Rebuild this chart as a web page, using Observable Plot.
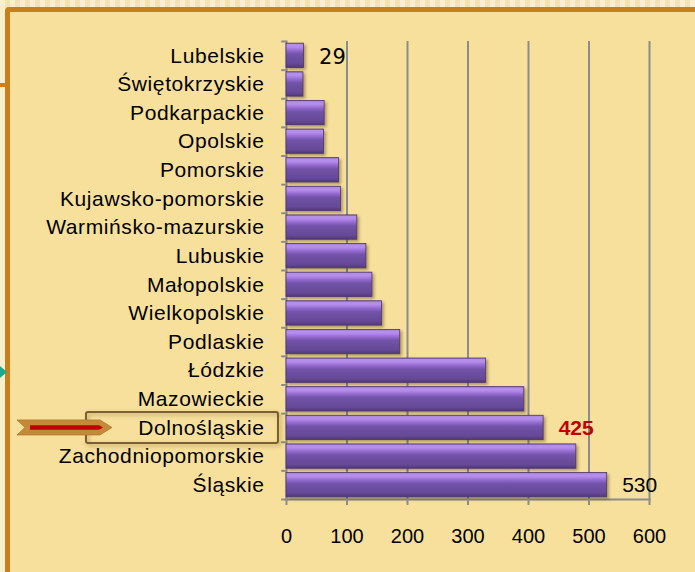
<!DOCTYPE html>
<html><head><meta charset="utf-8">
<script src="https://cdn.jsdelivr.net/npm/d3@7"></script>
<script src="https://cdn.jsdelivr.net/npm/@observablehq/plot@0.6"></script>
<style>
html,body{margin:0;padding:0;}
body{width:695px;height:572px;overflow:hidden;position:relative;
  background:repeating-linear-gradient(90deg,#f8efcf 0 5px,#f2e3b2 5px 10px);}
#frame{position:absolute;left:5px;top:7px;width:800px;height:700px;border:5px solid #c8801a;border-radius:4px;background:#f7e09c;box-sizing:border-box;}
#stub{position:absolute;left:0;top:83px;width:6px;height:4px;background:#c8801a;}
#teal{position:absolute;left:0;top:366px;width:0;height:0;border-top:6px solid transparent;border-bottom:6px solid transparent;border-left:7px solid #1aa88f;}
#chart{position:absolute;left:0;top:0;}
#overlay{position:absolute;left:0;top:0;pointer-events:none;}
.ylab text{letter-spacing:0.6px;}
.bars rect{filter:drop-shadow(2px 2px 1.5px rgba(60,40,10,0.4));}
</style>
</head><body>
<div id="frame"></div><div id="stub"></div><div id="teal"></div>
<div id="chart"></div>
<svg id="overlay" width="695" height="572"></svg>
<script>
const regions = ["Lubelskie","Świętokrzyskie","Podkarpackie","Opolskie","Pomorskie","Kujawsko-pomorskie","Warmińsko-mazurskie","Lubuskie","Małopolskie","Wielkopolskie","Podlaskie","Łódzkie","Mazowieckie","Dolnośląskie","Zachodniopomorskie","Śląskie"];
const values = [29,28,63,62,87,90,117,132,142,158,188,330,393,425,479,530];
const xTicks = [0,100,200,300,400,500,600];
const highlight = "Dolnośląskie";

const data = regions.map((r,i)=>({region:r, value:values[i]}));
const W=695, H=572, mt=41, mb=73, ml=286, mr=46;
const step = (H-mt-mb)/regions.length;

const chart = Plot.plot({
  width:W, height:H, marginLeft:ml, marginRight:mr, marginTop:mt, marginBottom:mb,
  style:{background:"transparent", fontFamily:"'Liberation Sans', Arial, sans-serif", color:"#000", overflow:"visible"},
  x:{domain:[0,600], ticks:xTicks},
  y:{domain:regions, paddingInner:0.15, paddingOuter:0.075, round:false},
  marks:[
    Plot.ruleX(xTicks.filter(d=>d>0), {stroke:"#8c8c8c", strokeWidth:2}),
    Plot.frame({anchor:"left", stroke:"#8c8c8c", strokeWidth:2}),
    Plot.frame({anchor:"bottom", stroke:"#8c8c8c", strokeWidth:2}),
    Plot.ruleY(regions, {y:d=>d, x1:-8, x2:0, dy:-step/2, stroke:"#8c8c8c", strokeWidth:2}),
    Plot.ruleY(regions.slice(-1), {y:d=>d, x1:-8, x2:0, dy:step/2, stroke:"#8c8c8c", strokeWidth:2}),
    Plot.barX(data, {x:"value", y:"region", fill:"url(#barGrad)", stroke:"#4e3574", strokeWidth:0.8, className:"bars"}),
    Plot.axisX({ticks:xTicks, tickSize:6, tickPadding:23, fontSize:20, stroke:"#8c8c8c", strokeWidth:2, fill:"#000", label:null}),
    Plot.axisY({tickSize:0, tickPadding:22, fontSize:21, fill:"#000", label:null, className:"ylab"}),
    Plot.text(data.filter(d=>d.region==="Lubelskie"), {x:"value", y:"region", text:d=>String(d.value), dx:15, dy:1, textAnchor:"start", fontSize:21, fontFamily:"'DejaVu Sans', sans-serif", fill:"#000"}),
    Plot.text(data.filter(d=>d.region==="Śląskie"), {x:"value", y:"region", text:d=>String(d.value), dx:15, textAnchor:"start", fontSize:21, fill:"#000"}),
    Plot.text(data.filter(d=>d.region===highlight), {x:"value", y:"region", text:d=>String(d.value), dx:15, textAnchor:"start", fontSize:21, fontWeight:"bold", fill:"#c00000"})
  ]
});
d3.select(chart).insert("defs", ":first-child").html(`
<linearGradient id="barGrad" x1="0" y1="0" x2="0" y2="1">
  <stop offset="0" stop-color="#8a6cbf"/>
  <stop offset="0.06" stop-color="#b390e6"/>
  <stop offset="0.16" stop-color="#b58cea"/>
  <stop offset="0.32" stop-color="#9068cc"/>
  <stop offset="0.46" stop-color="#7253a8"/>
  <stop offset="0.85" stop-color="#654896"/>
  <stop offset="1" stop-color="#503878"/>
</linearGradient>`);
document.getElementById("chart").appendChild(chart);

// highlight annotation, placed from the y scale
const ys = chart.scale("y");
const cy = ys.apply(highlight) + ys.bandwidth/2;
const ov = d3.select("#overlay");
ov.append("defs").html(`<filter id="sh" x="-10%" y="-30%" width="130%" height="180%"><feDropShadow dx="2" dy="2" stdDeviation="2" flood-color="#6b4a10" flood-opacity="0.45"/></filter>`);
ov.append("rect").attr("x",86).attr("y",cy-15.5).attr("width",192).attr("height",31).attr("rx",2)
  .attr("fill","none").attr("stroke","#7a5f32").attr("stroke-width",2).attr("filter","url(#sh)");
ov.append("polygon").attr("points",[[17,cy-7.5],[100,cy-7.5],[112,cy],[100,cy+7.5],[17,cy+7.5],[25,cy]].map(p=>p.join(",")).join(" "))
  .attr("fill","#c48a3a").attr("stroke","#b07828").attr("stroke-width",0.8);
ov.append("polygon").attr("points",[[30,cy-2.3],[99,cy-2.3],[103,cy],[99,cy+2.3],[30,cy+2.3]].map(p=>p.join(",")).join(" "))
  .attr("fill","#c00000");
</script>
</body></html>
